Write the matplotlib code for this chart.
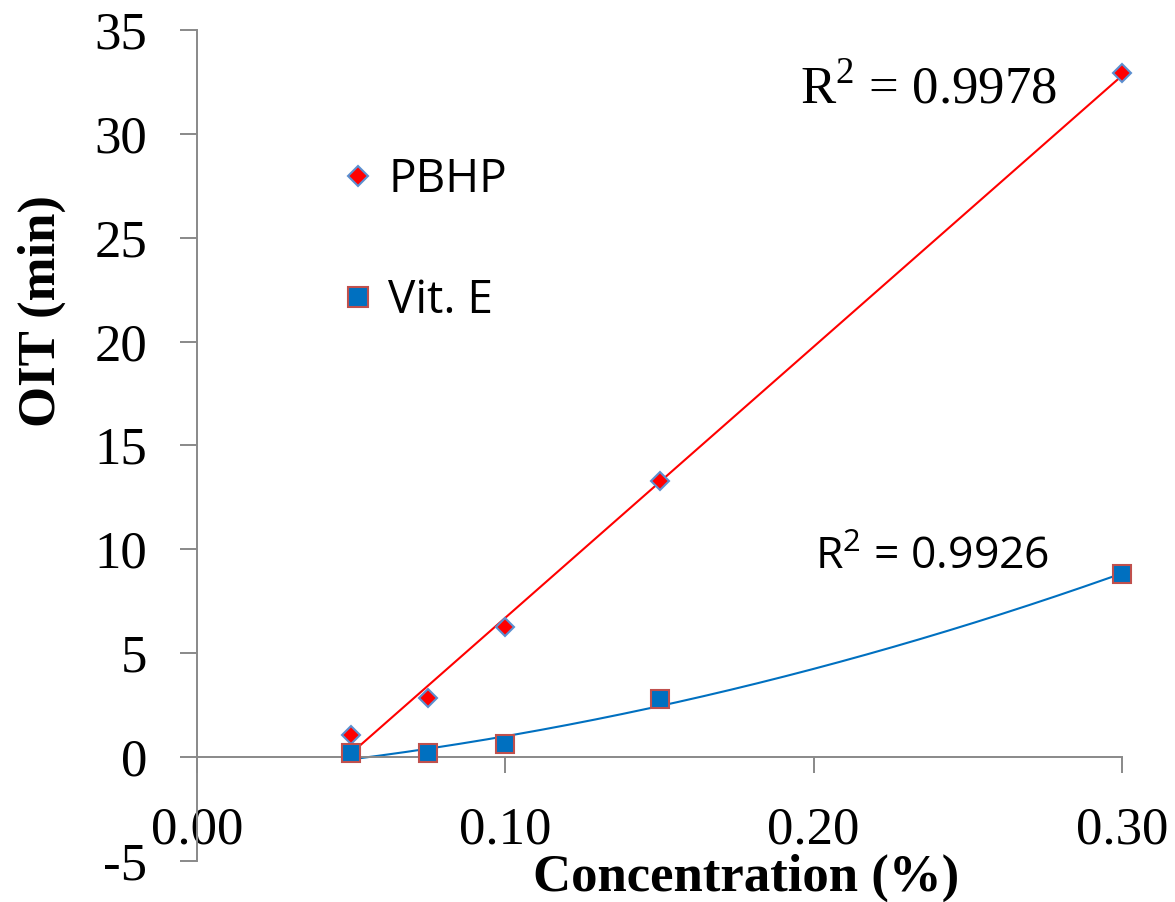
import numpy as np
import matplotlib
matplotlib.use('Agg')
import matplotlib.pyplot as plt

# ---------------------------------------------------------------
# Data
# ---------------------------------------------------------------
conc = [0.05, 0.075, 0.10, 0.15, 0.30]
oit_pbhp = [1.06, 2.84, 6.26, 13.29, 32.93]
oit_vite = [0.19, 0.19, 0.63, 2.79, 8.81]

x_ticks = [0.00, 0.10, 0.20, 0.30]
y_ticks = [-5, 0, 5, 10, 15, 20, 25, 30, 35]

r2_pbhp = r"R$^\mathregular{2}$ = 0.9978"
r2_vite = r"R$^\mathregular{2}$ = 0.9926"

# colours
red = '#FF0000'
blue = '#0070C0'
edge_blue = '#5B8FD0'
edge_red = '#C0504D'
axis_grey = '#898989'

fig = plt.figure(figsize=(11.75, 9.02), dpi=100)
ax = fig.add_axes([197 / 1175, 1 - 861 / 902, 925 / 1175, 831 / 902])

# trendlines: linear for PBHP, 2nd order polynomial for Vit. E
xx = np.linspace(min(conc), max(conc), 200)
lin = np.polyfit(conc, oit_pbhp, 1)
quad = np.polyfit(conc, oit_vite, 2)
ax.plot(xx, np.polyval(lin, xx), color=red, lw=1.5, zorder=2)
ax.plot(xx, np.polyval(quad, xx), color=blue, lw=1.5, zorder=2)

# data points
ax.plot(conc, oit_pbhp, linestyle='none', marker='D', markersize=9.5,
        markerfacecolor=red, markeredgecolor=edge_blue, markeredgewidth=1.5,
        label='PBHP', clip_on=False, zorder=3)
ax.plot(conc, oit_vite, linestyle='none', marker='s', markersize=12.5,
        markerfacecolor=blue, markeredgecolor=edge_red, markeredgewidth=1.5,
        label='Vit. E', clip_on=False, zorder=3)

ax.set_xlim(0, 0.30)
ax.set_ylim(-5, 35)

# Excel-like axes: y axis at x=0, x axis crossing at y=0
for s in ['top', 'right']:
    ax.spines[s].set_visible(False)
ax.spines['bottom'].set_position(('data', 0))
for s in ['left', 'bottom']:
    ax.spines[s].set_color(axis_grey)
    ax.spines[s].set_linewidth(1.4)

ax.set_xticks(x_ticks)
ax.set_xticklabels([f'{v:.2f}' for v in x_ticks])
ax.set_yticks(y_ticks)
ax.set_yticklabels([str(v) for v in y_ticks])
ax.tick_params(axis='x', direction='out', length=11.5, width=1.4, color=axis_grey, pad=24)
ax.tick_params(axis='y', direction='out', length=12, width=1.4, color=axis_grey, pad=24)
for lab in ax.get_xticklabels() + ax.get_yticklabels():
    lab.set_fontfamily('Liberation Serif')
    lab.set_fontsize(38)

# axis titles
fig.text(746 / 1175, 1 - 878 / 902, 'Concentration (%)', ha='center', va='center',
         family='Liberation Serif', fontweight='bold', fontsize=38)
fig.text(42 / 1175, 1 - 311 / 902, 'OIT (min)', ha='center', va='center', rotation=90,
         family='Liberation Serif', fontweight='bold', fontsize=38)

# R squared annotations
ax.text(0.1956, 31.49, r2_pbhp, ha='left', va='baseline',
        family='Liberation Serif', fontsize=38)
ax.text(0.2004, 9.05, r2_vite, ha='left', va='baseline',
        family='Open Sans', fontsize=32)

leg = ax.legend(frameon=False, loc='center left', bbox_to_anchor=(0.1543, 0.7467),
                handlelength=0.8, handletextpad=0.26, labelspacing=1.64,
                borderpad=0, borderaxespad=0, markerscale=1.1,
                prop={'family': 'Open Sans', 'size': 33})

fig.savefig('out.png', dpi=100)
